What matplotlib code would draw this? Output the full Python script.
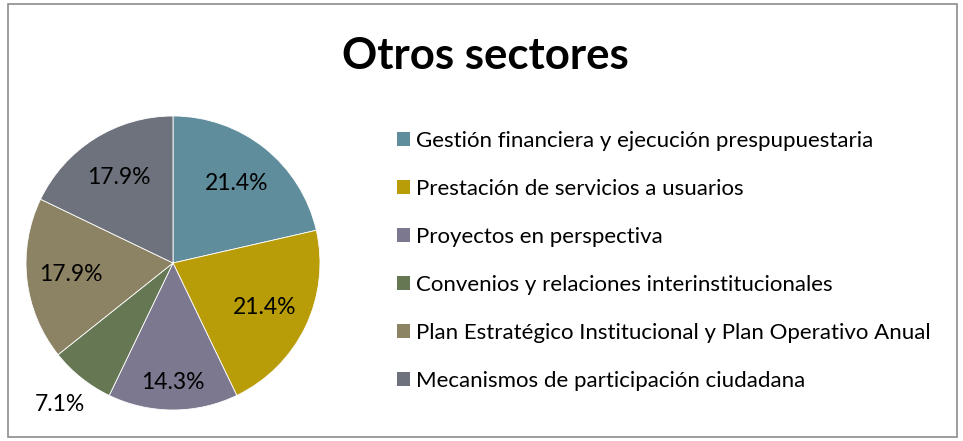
import matplotlib.pyplot as plt
from matplotlib.patches import Rectangle, Patch
import numpy as np

plt.rcParams['font.family'] = ['Lato', 'DejaVu Sans']

labels = ['Gestión financiera y ejecución prespupuestaria',
          'Prestación de servicios a usuarios',
          'Proyectos en perspectiva',
          'Convenios y relaciones interinstitucionales',
          'Plan Estratégico Institucional y Plan Operativo Anual',
          'Mecanismos de participación ciudadana']
counts = [6, 6, 4, 2, 5, 5]
colors = ['#5F8D9B', '#B89C08', '#7C7890', '#667753', '#8C8264', '#6D727C']

# distance of each percent label from the centre (radius = 1)
label_dist = [0.69, 0.69, 0.81, 1.23, 0.70, 0.69]

W, H = 963, 441
fig = plt.figure(figsize=(W / 100, H / 100), dpi=100)

# outer frame
fig.patches.append(Rectangle((8 / W, 4 / H), 949 / W, 433 / H, transform=fig.transFigure,
                             fill=False, edgecolor='#8c8c8c', linewidth=1.2))

cx, cy, r = 173, 263, 147
ax = fig.add_axes([(cx - r) / W, (H - cy - r) / H, 2 * r / W, 2 * r / H])
wedges, _ = ax.pie(counts, colors=colors, startangle=90, counterclock=False,
                   wedgeprops={'edgecolor': 'white', 'linewidth': 0.6})
ax.set_xlim(-1, 1)
ax.set_ylim(-1, 1)
ax.set_aspect('equal')
ax.axis('off')

total = sum(counts)
for w, c, d in zip(wedges, counts, label_dist):
    ang = np.deg2rad((w.theta1 + w.theta2) / 2)
    ax.text(d * np.cos(ang), d * np.sin(ang), f'{100 * c / total:.1f}%',
            ha='center', va='center', fontsize=16.5, color='black', clip_on=False)

fig.text(485 / W, 1 - 56 / H, 'Otros sectores', ha='center', va='center',
         fontsize=31.5, fontweight='bold')

handles = [Patch(facecolor=c, edgecolor='none') for c in colors]
fig.legend(handles, labels, loc='upper left', bbox_to_anchor=(397 / W, 1 - 131 / H),
           frameon=False, fontsize=16, labelspacing=1.26, handlelength=0.6,
           handleheight=0.6, handletextpad=0.27, borderaxespad=0, borderpad=0)

fig.savefig('out.png', dpi=100)
